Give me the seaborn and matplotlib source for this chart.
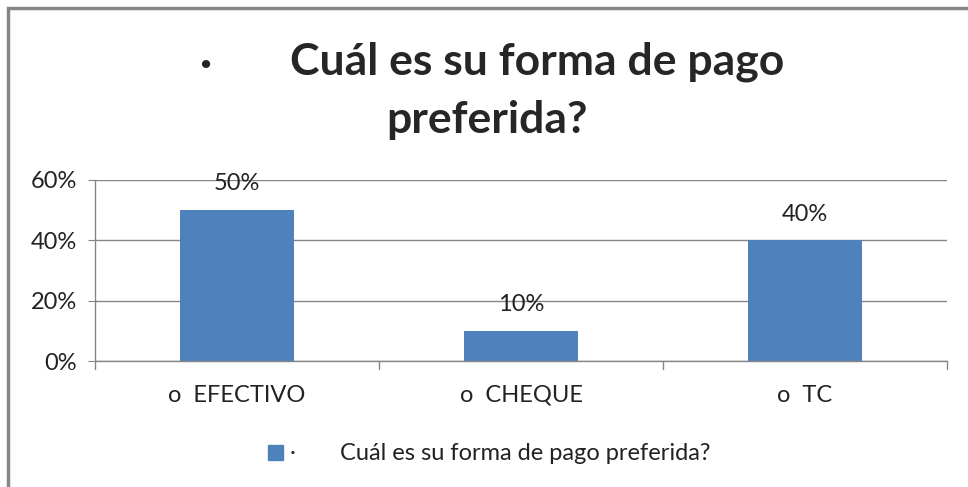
import numpy as np
import pandas as pd
import matplotlib
matplotlib.use("Agg")
import matplotlib.pyplot as plt
import seaborn as sns
from matplotlib.patches import Rectangle
from matplotlib.ticker import FuncFormatter

# datos
categorias = ["o  EFECTIVO", "o  CHEQUE", "o  TC"]
valores = [0.50, 0.10, 0.40]
etiquetas = ["50%", "10%", "40%"]
serie = "Cuál es su forma de pago preferida?"

sns.set_style("white")
plt.rcParams['font.family'] = ['Lato', 'DejaVu Sans']

azul = "#4F81BD"
gris = "#868686"
texto = "#222222"

df = pd.DataFrame({"cat": categorias, "val": valores})

fig = plt.figure(figsize=(9.68, 4.87), dpi=100)
ax = fig.add_axes([95/968, 1 - 361/487, (947 - 95)/968, (361 - 180)/487])

sns.barplot(data=df, x="cat", y="val", color=azul, width=0.40, ax=ax,
            saturation=1, edgecolor="none")

ax.set_ylim(0, 0.6)
ax.set_xlim(-0.5, 2.5)
ax.set_yticks([0, 0.2, 0.4, 0.6])
ax.yaxis.set_major_formatter(FuncFormatter(lambda v, p: f"{v*100:.0f}%"))
ax.grid(axis="y", color=gris, linewidth=1)
ax.set_axisbelow(True)
ax.set_xlabel("")
ax.set_ylabel("")

for s in ["top", "right"]:
    ax.spines[s].set_visible(False)
for s in ["left", "bottom"]:
    ax.spines[s].set_color(gris)
    ax.spines[s].set_linewidth(1)

ax.tick_params(axis="y", length=5, color=gris, labelsize=17, pad=8, left=True,
               labelcolor=texto)
ax.tick_params(axis="x", length=0, labelsize=17, pad=17, labelcolor=texto)
# marcas del eje x entre categorias
for xb in [-0.5, 0.5, 1.5, 2.5]:
    ax.plot([xb, xb], [0, -0.028], color=gris, lw=1, clip_on=False)

for i, (v, t) in enumerate(zip(valores, etiquetas)):
    ax.text(i, v + 0.087, t, ha="center", va="center", fontsize=17, color=texto)

# titulo
fig.text(205/968, 1 - 64/487, "·", ha="center", va="center", fontsize=32, fontweight="bold")
fig.text(537/968, 1 - 62/487, "Cuál es su forma de pago", ha="center", va="center",
         fontsize=32, fontweight="bold")
fig.text(487/968, 1 - 120/487, "preferida?", ha="center", va="center",
         fontsize=32, fontweight="bold")

# leyenda
fig.patches.append(Rectangle((268/968, 1 - 460/487), 15/968, 15/487,
                             transform=fig.transFigure, color=azul))
fig.text(293/968, 1 - 453/487, "·", ha="center", va="center", fontsize=16)
fig.text(340/968, 1 - 453/487, serie, ha="left", va="center", fontsize=17, color=texto)

# borde del grafico
fig.patches.append(Rectangle((8/968, -0.1), 1.1, 1 - 8/487 + 0.1,
                             transform=fig.transFigure, fill=False,
                             edgecolor=gris, linewidth=2.5))

fig.savefig("out.png", dpi=100)
